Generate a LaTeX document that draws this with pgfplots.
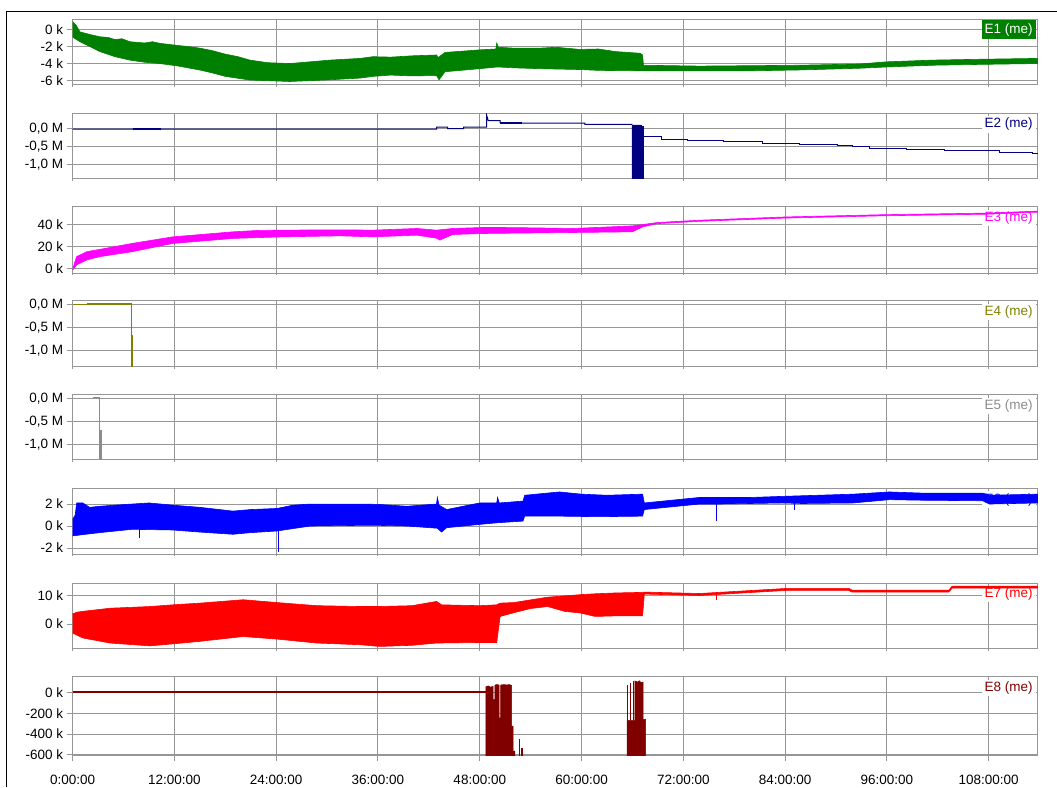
\documentclass[border=0pt]{standalone}
\usepackage{fontspec}
\setmainfont{Liberation Sans}
\usepackage{pgfplots}
\pgfplotsset{compat=1.18}
\definecolor{gridgray}{RGB}{150,150,150}
\definecolor{cE1}{RGB}{0,128,0}
\definecolor{cE2}{RGB}{0,0,128}
\definecolor{cE3}{RGB}{255,0,255}
\definecolor{cE4}{RGB}{128,128,0}
\definecolor{cE5}{RGB}{140,140,140}
\definecolor{cE6}{RGB}{0,0,255}
\definecolor{cE7}{RGB}{255,0,0}
\definecolor{cE8}{RGB}{128,0,0}
\pgfplotsset{
  panel/.style={
    scale only axis, width=965.6pt, anchor=north west,
    xmin=0, xmax=113.8, xtick={0,12,...,108}, xticklabels={},
    grid=major, major grid style={gridgray, line width=1pt},
    axis line style={gridgray, line width=1pt},
    tick style={gridgray, line width=1pt},
    tick align=outside, major tick length=6pt,
    xtick pos=bottom, ytick pos=left,
    xtick style={/pgfplots/major tick length=2pt},
    tick label style={font=\fontsize{13.5}{16}\selectfont, text=black},
    clip=true,
  },
}
\newcommand{\plabel}[2]{%
  \node[anchor=east, fill=white, text=#1, inner xsep=3pt, inner ysep=2pt, font=\fontsize{13.5}{16}\selectfont] at (rel axis cs:1,1) [xshift=-2pt, yshift=-11pt] {#2};}
\begin{document}
\begin{tikzpicture}
\path (0pt,0pt) rectangle (1057pt,-787pt);
\draw[black, line width=1pt] (7pt,-787pt) -- (7pt,-12pt) -- (1057pt,-12pt);

% ---------- E1 ----------
\begin{axis}[panel, at={(72.7pt,-20pt)}, height=64.7pt, ymin=-6.47, ymax=1.09,
  ytick={0,-2,-4,-6}, yticklabels={0 k,-2 k,-4 k,-6 k}]
\node[anchor=east, fill=cE1, text=white, inner xsep=3pt, inner ysep=2pt, minimum height=19pt, font=\fontsize{13.5}{16}\selectfont] at (rel axis cs:1,1) [xshift=-2pt, yshift=-10pt] {E1 (me)};
\addplot[fill=cE1, draw=cE1, line width=0.6pt] coordinates {
(0,0.9) (0.4,0.5) (0.86,-0.3) (2,-0.6) (3.2,-0.87) (4.2,-0.95) (5,-1.2) (5.8,-1.1) (6.75,-1.45) (8.5,-1.6) (9.4,-1.45) (10.3,-1.64)
(12.5,-1.9) (13.5,-2.0) (15,-2.2) (16.5,-2.5) (18,-2.9) (19.5,-3.2) (20.9,-3.6) (23,-3.9) (25.6,-4.0) (28,-3.8) (30.3,-3.6) (33.9,-3.4)
(35.4,-3.2) (37.5,-3.25) (40,-3.1) (42.9,-3.0) (43.1,-3.3) (43.9,-2.7) (46,-2.55) (48,-2.4) (49.9,-2.3) (50.0,-1.6)
(50.2,-2.1) (52,-2.2) (55.1,-2.2) (57,-2.1) (59.8,-2.35) (62,-2.3) (64,-2.6) (66.9,-2.8) (67.2,-3.0) (67.3,-4.2)
(73.9,-4.3) (80,-4.25) (85.7,-4.2) (92.8,-4.05) (96,-3.8) (101.4,-3.6) (107,-3.5) (113.8,-3.4)
(113.8,-4.0) (107,-4.1) (101.4,-4.2) (96,-4.4) (92.8,-4.55) (85.7,-4.75) (80,-4.85) (73.9,-4.85)
(67.3,-4.85) (66.9,-4.85) (62,-4.8) (59.8,-4.7) (55.1,-4.6) (52,-4.5) (50.1,-4.4) (48,-4.6) (43.9,-4.96)
(43.2,-5.9) (42.9,-5.4) (40,-5.45) (37.5,-5.35) (35.4,-5.5) (33.9,-5.7) (30.3,-5.9) (25.6,-6.1) (23,-6.0) (20.9,-5.93)
(18,-5.5) (16.5,-5.1) (15,-4.76) (12.5,-4.3) (10.3,-4.0) (8.5,-3.85) (6.75,-3.6) (5,-3.2) (3.2,-2.6) (2,-2.0) (0.86,-1.45)
(0.3,-1.1) (0,-0.9)};
\end{axis}

% ---------- E2 ----------
\begin{axis}[panel, at={(72.7pt,-113.3pt)}, height=65.7pt, ymin=-1.389, ymax=0.436,
  ytick={0,-0.5,-1}, yticklabels={{0,0 M},{-0,5 M},{-1,0 M}}]
\plabel{cE2}{E2 (me)}
\addplot[cE2, line width=1pt] coordinates {
(0,-0.005) (42.9,-0.005) (42.9,0.05) (44.2,0.05) (44.2,0.01) (46.1,0.01) (46.1,0.05) (48.8,0.05)
(48.8,0.39) (49.0,0.23) (50.4,0.23) (50.4,0.175) (51.5,0.175) (51.5,0.16) (60.4,0.16) (60.4,0.13)
(66.0,0.13)};
\addplot[cE2, line width=2pt] coordinates {(7.1,-0.005) (10.4,-0.005)};
\addplot[cE2, line width=2pt] coordinates {(50.4,0.17) (53,0.17)};
\addplot[fill=cE2, draw=cE2] coordinates {(65.95,0.11) (67.0,0.11) (67.0,0.08) (67.3,0.08) (67.3,-1.45) (65.95,-1.45)};
\addplot[cE2, line width=1pt] coordinates {
(67.3,-0.21) (69.4,-0.21) (69.4,-0.29) (72.5,-0.29) (72.5,-0.31) (76.7,-0.31) (76.7,-0.35) (81.3,-0.35)
(81.3,-0.40) (85.7,-0.40) (85.7,-0.43) (90.2,-0.43) (90.2,-0.46) (92.0,-0.46) (92.0,-0.49) (94.0,-0.49)
(94.0,-0.53) (98.3,-0.53) (98.3,-0.56) (102.8,-0.56) (102.8,-0.60) (109.3,-0.60) (109.3,-0.65)
(113.2,-0.65) (113.2,-0.69) (113.8,-0.69)};
\end{axis}

% ---------- E3 ----------
\begin{axis}[panel, at={(72.7pt,-207pt)}, height=66.5pt, ymin=-4.0, ymax=55.5,
  ytick={0,20,40}, yticklabels={0 k,20 k,40 k}]
\plabel{cE3}{E3 (me)}
\addplot[fill=cE3, draw=cE3, line width=0.6pt] coordinates {
(0,-1) (0.2,5) (0.47,11) (1.65,15.4) (3.2,17.5) (7,22.8) (11.8,28.7) (18.9,33.2) (22,34.5) (24.8,34.7)
(31.5,35) (35.4,34.7) (40.6,36.2) (42.9,34.7) (44.8,36.2) (48.4,37.1) (52,37.0) (59,36.2) (66,38.5)
(67.2,39.7) (68.9,41.5) (73.9,43.6) (84,46.5) (96,48.6) (108,50.0) (113.8,51.8)
(113.8,50.8) (108,49.0) (96,47.6) (84,45.5) (73.9,42.6) (68.9,40.5) (67.2,37.6) (66,33.2) (59,32.6)
(52,32.0) (48.4,31.7) (44.8,30.8) (43.3,25.8) (42.9,27.5) (40.6,30.2) (35.4,28.7) (31.5,29.6)
(24.8,28.7) (18.9,27.3) (11.8,22.8) (7,15.4) (3.2,11) (1.65,8.0) (0.47,3.6) (0,-1)};
\end{axis}

% ---------- E4 ----------
\begin{axis}[panel, at={(72.7pt,-301pt)}, height=65.7pt, ymin=-1.35, ymax=0.088,
  ytick={0,-0.5,-1}, yticklabels={{0,0 M},{-0,5 M},{-1,0 M}}]
\plabel{cE4}{E4 (me)}
\addplot[cE4, line width=1pt] coordinates {(0,0) (1.65,0) (1.65,0.012) (6.95,0.012) (6.95,-1.45)};
\addplot[cE4, line width=2pt] coordinates {(1.65,0.012) (6.95,0.012)};
\addplot[cE4, line width=2pt] coordinates {(7.03,-0.67) (7.03,-1.45)};
\end{axis}

% ---------- E5 ----------
\begin{axis}[panel, at={(72.7pt,-395pt)}, height=65pt, ymin=-1.326, ymax=0.087,
  ytick={0,-0.5,-1}, yticklabels={{0,0 M},{-0,5 M},{-1,0 M}}]
\plabel{cE5}{E5 (me)}
\addplot[cE5, line width=1pt] coordinates {(2.36,0.037) (3.22,0.037) (3.22,-1.45)};
\addplot[cE5, line width=2pt] coordinates {(3.37,-0.67) (3.37,-1.45)};
\end{axis}

% ---------- E6 ----------
\begin{axis}[panel, at={(72.7pt,-489pt)}, height=65.3pt, ymin=-2.55, ymax=3.39,
  ytick={-2,0,2}, yticklabels={-2 k,0 k,2 k}]
\plabel{cE6}{E6 (me)}
\addplot[fill=cE6, draw=cE6, line width=0.6pt] coordinates {
(0,0.6) (0.3,1.0) (0.47,2.1) (1.2,2.1) (2,1.7) (3.2,1.8) (5,1.9) (7,2.0) (9,2.1) (11.8,1.9) (15,1.7)
(18.9,1.36) (21,1.5) (24.1,1.6) (26,1.9) (28,2.0) (33.9,2.0) (36,1.97) (39.4,1.8) (42.9,2.0) (43.0,2.6) (43.2,1.9)
(44.1,1.5) (48,2.1) (50.0,2.1) (50.1,2.6) (50.3,2.1) (53.1,2.27) (53.3,2.8) (56,3.0) (57.4,3.1) (60,2.9) (63,2.8)
(67.2,2.9) (67.4,2.1) (73.9,2.6) (80,2.6) (83.7,2.7) (92,2.9) (96.3,3.1) (100,3.0) (107.3,3.0)
(108.1,2.8) (113.8,2.9)
(113.8,2.1) (108.1,2.0) (107.3,2.3) (100,2.35) (96.3,2.4) (92,2.1) (86,2.05) (83.7,2.1) (76,2.0)
(73.9,2.0) (67.4,1.5) (67.2,0.9) (62,0.85) (57.4,0.9) (53.3,0.9) (53.1,0.45) (50.1,0.3) (48,0.15)
(44.1,-0.15) (43.5,-0.55) (43.0,-0.2) (39.4,0) (36,0.06) (33.9,0.06) (28,0.0) (24.1,-0.45) (21,-0.6)
(18.9,-0.75) (15,-0.55) (11.8,-0.36) (7,-0.3) (3.2,-0.6) (1,-0.8) (0,-0.9)};
\addplot[cE6, line width=1pt] coordinates {(7.85,-0.3) (7.85,-1.1)};
\addplot[cE6, line width=1pt] coordinates {(24.3,-0.45) (24.3,-2.4)};
\addplot[cE6, line width=1pt] coordinates {(75.95,2.0) (75.95,0.45)};
\addplot[cE6, line width=1pt] coordinates {(85.1,2.1) (85.1,1.5)};
\end{axis}

% ---------- E7 ----------
\begin{axis}[panel, at={(72.7pt,-583.3pt)}, height=65.7pt, ymin=-8.7, ymax=14.5,
  ytick={0,10}, yticklabels={0 k,10 k}]
\plabel{cE7}{E7 (me)}
\addplot[fill=cE7, draw=cE7, line width=0.6pt] coordinates {
(0,3.6) (0.5,4.2) (1.2,4.5) (4.4,5.6) (9.1,6.2) (11.8,6.8) (15,7.4) (20.1,8.6) (24.1,7.6) (28.8,6.5)
(33.9,6.2) (36,6.2) (40,6.5) (42.9,8.0) (43.5,6.8) (48,6.5) (50,6.8) (50.4,7.4) (52,7.6) (56,9.5)
(59.9,10.4) (61.6,10.7) (64,11.0) (67.2,11.2) (67.4,11.3) (73.9,10.8) (84.2,12.6) (91.5,12.6)
(91.9,12.0) (103.3,12.0) (103.7,13.4) (113.8,13.4)
(113.8,12.7) (103.7,12.7) (103.3,11.3) (91.9,11.3) (91.5,11.9) (84.2,11.9) (73.9,10.1) (67.4,10.6)
(67.2,2.9) (64,2.9) (61.6,2.7) (59.9,3.9) (58,4.5) (56,6.2) (54,5.5) (52,4) (50.4,2.7) (50.0,-6.5)
(48,-6.5) (42.9,-6.7) (40,-7.5) (36.2,-7.9) (33.9,-7.3) (28.8,-6.7) (24.1,-5.3) (20.1,-4.4) (15,-6.1)
(11.8,-7.0) (9.1,-7.7) (4.4,-6.7) (1.2,-4.9) (0,-3.2)};
\addplot[cE7, line width=1pt] coordinates {(75.95,10.5) (75.95,8.6)};
\end{axis}

% ---------- E8 ----------
\begin{axis}[panel, at={(72.7pt,-677.3pt)}, height=78.4pt, ymin=-605, ymax=148,
  ytick={0,-200,-400,-600}, yticklabels={0 k,-200 k,-400 k,-600 k},
  xtick style={/pgfplots/major tick length=6pt},
  xticklabels={0:00:00,12:00:00,24:00:00,36:00:00,48:00:00,60:00:00,72:00:00,84:00:00,96:00:00,108:00:00},
  xticklabel style={yshift=-10pt}]
\plabel{cE8}{E8 (me)}
\addplot[cE8, line width=2pt] coordinates {(0,0) (48.72,0)};
\addplot[fill=cE8, draw=cE8, line width=0.5pt] coordinates {
(48.72,-610) (48.72,55) (49.0,62) (49.3,50) (49.58,60) (49.58,-70) (49.78,-70) (49.78,70) (50.0,75)
(50.29,72) (50.29,-245) (50.45,-245) (50.45,70) (50.8,75) (51.2,72) (51.5,75) (51.75,68) (51.75,-325)
(51.94,-325) (51.94,-565) (52.14,-565) (52.14,-610)};
\addplot[cE8, line width=1pt] coordinates {(52.73,-447) (52.73,-610)};
\addplot[cE8, line width=1.5pt] coordinates {(53.0,-530) (53.0,-610)};
\addplot[cE8, line width=1pt] coordinates {(65.45,-270) (65.45,75)};
\addplot[cE8, line width=1pt] coordinates {(65.75,-270) (65.75,90)};
\addplot[cE8, line width=1pt] coordinates {(66.1,-270) (66.1,105)};
\addplot[fill=cE8, draw=cE8, line width=0.5pt] coordinates {
(65.38,-610) (65.38,-270) (66.29,-270) (66.29,110) (66.6,100) (66.8,112) (67.0,95) (67.27,100)
(67.27,-260) (67.55,-260) (67.55,-610)};
\end{axis}
\end{tikzpicture}
\end{document}
